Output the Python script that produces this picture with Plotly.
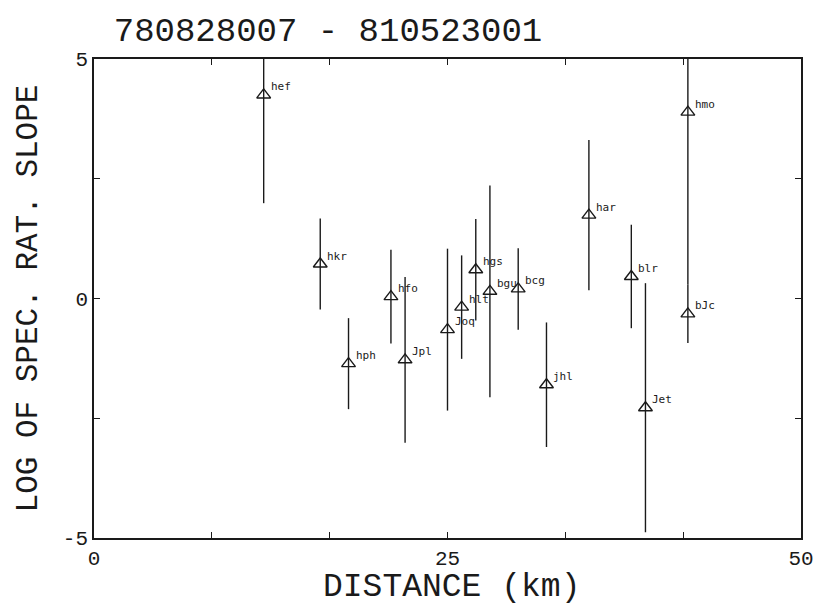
import plotly.graph_objects as go

stations = ["hef", "hkr", "hph", "hfo", "Jpl", "Joq", "hlt", "hgs", "bgu", "bcg",
            "jhl", "har", "blr", "Jet", "hmo", "bJc"]
distance_km = [12, 16, 18, 21, 22, 25, 26, 27, 28, 30, 32, 35, 38, 39, 42, 42]
log_slope = [4.25, 0.72, -1.36, 0.04, -1.28, -0.65, -0.18, 0.60, 0.15, 0.20,
             -1.80, 1.74, 0.46, -2.28, 3.89, -0.32]
slope_err = [2.26, 0.95, 0.95, 0.98, 1.73, 1.69, 1.08, 1.06, 2.21, 0.85,
             1.30, 1.57, 1.08, 2.60, 3.60, 0.61]

x_tickvals = [0, 50 / 6, 100 / 6, 25, 200 / 6, 250 / 6, 50]
x_ticktext = ["0", "", "", "25", "", "", "50"]
y_tickvals = [-5, -2.5, 0, 2.5, 5]
y_ticktext = ["-5", "", "0", "", "5"]

title_text = "780828007 - 810523001"
x_title = "DISTANCE (km)"
y_title = "LOG OF SPEC. RAT. SLOPE"

INK = "#1a1a1a"
MONO = "Liberation Mono, DejaVu Sans Mono, monospace"

# figure size compensates the 8px page margin of the html body
W, H = 817, 597

fig = go.Figure()
fig.add_trace(go.Scatter(
    x=distance_km, y=log_slope,
    mode="markers",
    marker=dict(symbol="triangle-up-open", size=12, color=INK,
                line=dict(width=1.4, color=INK)),
    error_y=dict(type="data", array=slope_err, visible=True,
                 color=INK, thickness=1.4, width=0),
    showlegend=False,
))

station_labels = [
    dict(x=xv, y=yv, text=name, xref="x", yref="y", showarrow=False,
         xanchor="left", yanchor="middle", xshift=5, yshift=8,
         font=dict(family="DejaVu Sans Mono", size=11, color=INK))
    for xv, yv, name in zip(distance_km, log_slope, stations)
]

axis_common = dict(
    showgrid=False, zeroline=False, showline=True, linecolor=INK, linewidth=1.5,
    mirror="allticks", ticks="inside", ticklen=6, tickwidth=1.3, tickcolor=INK,
    tickfont=dict(family=MONO, size=21, color=INK),
)

fig.update_xaxes(range=[0, 50], tickvals=x_tickvals, ticktext=x_ticktext, **axis_common)
fig.update_yaxes(range=[-5, 5], tickvals=y_tickvals, ticktext=y_ticktext, **axis_common)

fig.update_layout(
    width=W, height=H,
    margin=dict(l=86, r=24, t=51, b=67),
    paper_bgcolor="white", plot_bgcolor="white",
    title=dict(text=title_text, x=320 / W, xanchor="center",
               y=1 - 21 / H, yanchor="middle",
               font=dict(family=MONO, size=34, color=INK)),
    annotations=station_labels + [
        dict(text=x_title, xref="paper", yref="paper", x=0.505, y=-0.104,
             xanchor="center", yanchor="middle", showarrow=False,
             font=dict(family=MONO, size=33, color=INK)),
        dict(text=y_title, xref="paper", yref="paper", x=-0.092, y=0.5,
             xanchor="center", yanchor="middle", textangle=-90, showarrow=False,
             font=dict(family=MONO, size=31, color=INK)),
    ],
)

fig.write_html("out.html")
